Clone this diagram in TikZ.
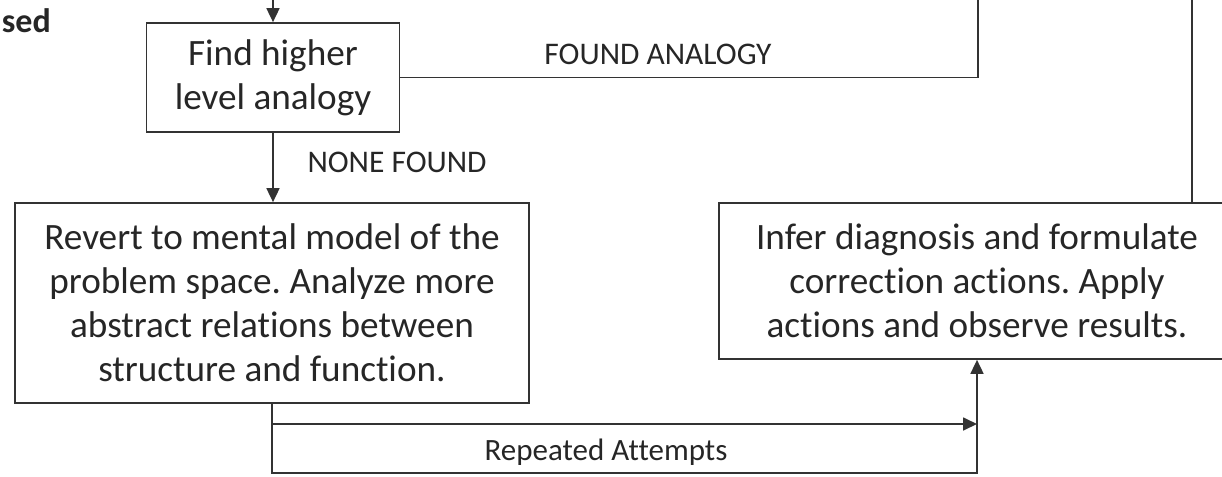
\documentclass[tikz,border=0pt]{standalone}
\usepackage{fontspec}
\setmainfont{Carlito}[RawFeature={-liga}]
\usetikzlibrary{arrows.meta}
\definecolor{linecol}{HTML}{333333}
\definecolor{txtcol}{HTML}{262626}
\frenchspacing
\begin{document}
\begin{tikzpicture}[x=1pt,y=-1pt,
  box/.style={draw=linecol, line width=1.7pt, inner sep=0pt, align=center,
    text=txtcol, font=\fontsize{37.2}{44}\selectfont},
  lbl/.style={text=txtcol, font=\fontsize{31.5}{36}\selectfont, inner sep=0pt, anchor=base},
  conn/.style={draw=linecol, line width=1.7pt},
  arr/.style={conn, -{Triangle[length=14pt,width=13pt]}}]
\useasboundingbox (0,0) rectangle (1222,476);

% process boxes
\node[box, minimum width=253pt, minimum height=109pt] (find) at (273,77.5)
  {Find higher\\level analogy};
\node[box, minimum width=514pt, minimum height=200pt] (revert) at (272,303)
  {Revert to mental model of the\\problem space. Analyze more\\abstract relations between\\structure and function.};
\node[box, minimum width=516pt, minimum height=156pt] (infer) at (977,281)
  {Infer diagnosis and formulate\\correction actions. Apply\\actions and observe results.};

% loose ends leaving the top edge
\coordinate (in1) at (273,-2);
\coordinate (out1) at (978,-2);
\coordinate (out2) at (1192,-2);
\coordinate (mid) at (0,424);
\coordinate (low) at (0,473);

% connectors
\draw[arr] (in1) -- (in1 |- find.north);
\draw[conn] (find.east) -| (out1);
\draw[arr] (find.south) -- (find.south |- revert.north);
\draw[conn] (infer.north -| out2) -- (out2);
\draw[arr] (revert.south) -- (revert.south |- low) -| (infer.south);
\draw[arr] (revert.south |- mid) -- (infer.south |- mid);

% labels
\node[lbl] (fa) at (658,65) {FOUND ANALOGY};
\node[lbl] (nf) at (397,172) {NONE FOUND};
\node[lbl, font=\fontsize{31}{35}\selectfont] (ra) at (606,460) {Repeated Attempts};
\node[lbl, anchor=base east, font=\bfseries\fontsize{34}{38}\selectfont] (sed) at (51,33) {sed};
\end{tikzpicture}
\end{document}
